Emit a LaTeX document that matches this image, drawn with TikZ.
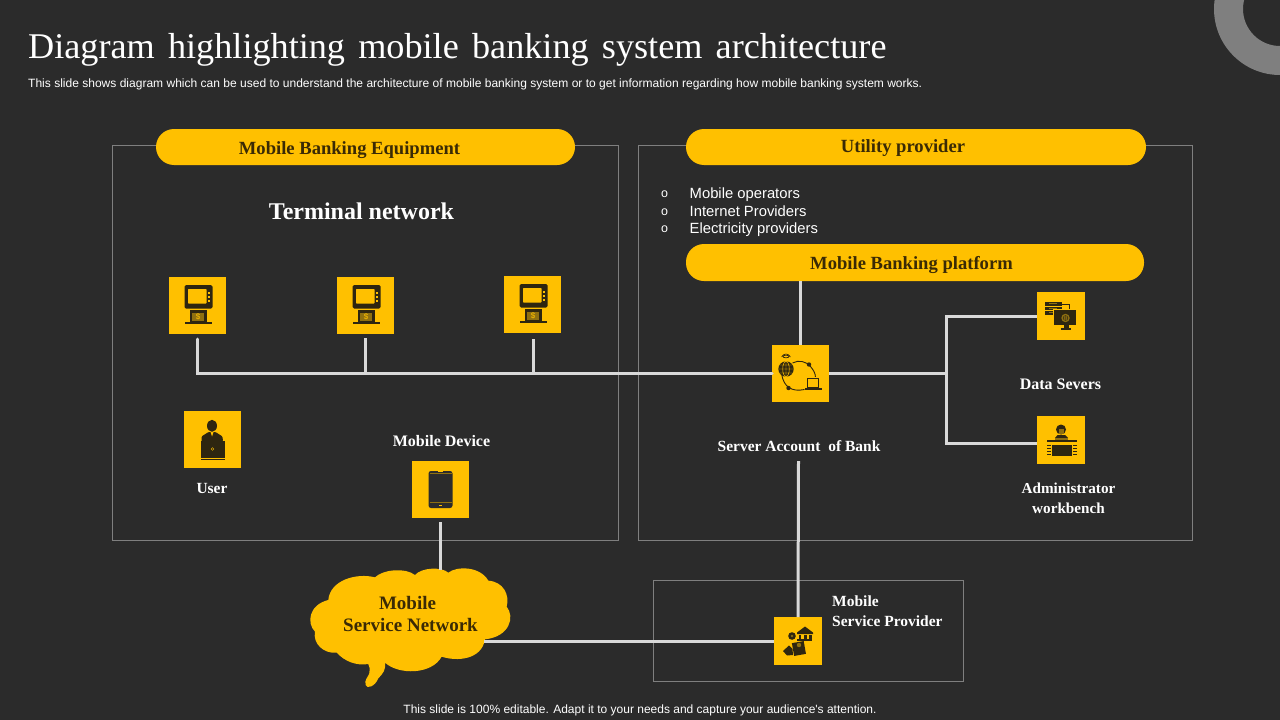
\documentclass[tikz,border=0pt]{standalone}
\usepackage{fontspec}
\setmainfont{Liberation Serif}
\newfontfamily\sansf{Liberation Sans}
\definecolor{bgc}{HTML}{2B2B2B}
\definecolor{ylw}{HTML}{FFC000}
\definecolor{linec}{HTML}{D9D9D9}
\definecolor{framec}{HTML}{7F7F7F}
\definecolor{ink}{HTML}{3A2A05}
\definecolor{icn}{HTML}{2E2610}
\definecolor{olive}{HTML}{8F7010}
\tikzset{
  x=1pt,y=-1pt,
  bigicon/.style={fill=ylw,minimum size=57pt,inner sep=0pt,outer sep=0pt},
  smallicon/.style={fill=ylw,minimum size=48pt,inner sep=0pt,outer sep=0pt},
  pill/.style={fill=ylw,rounded corners=18pt,inner sep=0pt,outer sep=0pt,anchor=center},
  pilltext/.style={inner sep=0pt,text=ink,anchor=base,font=\fontsize{18.6}{22}\selectfont\bfseries},
  conn/.style={draw=linec,line width=3pt},
  framebox/.style={draw=framec,line width=0.9pt},
  lbl/.style={text=white,font=\fontsize{15.5}{20}\selectfont\bfseries,align=center,inner sep=0pt},
  blt/.style={text=white,font=\sansf\fontsize{14.8}{18}\selectfont,anchor=base west,inner sep=0pt},
  bltmark/.style={text=white,font=\sansf\fontsize{12.5}{14}\selectfont,inner sep=0pt},
  atmicon/.pic={
    \fill[icn,rounded corners=1.5pt] (-13,-20.5) rectangle (15,3);
    \fill[ylw,rounded corners=0.7pt] (-9.5,-16.5) rectangle (9,-2);
    \foreach \yy in {-13,-9,-5}{\fill[ylw] (10.6,\yy-1) rectangle (12.8,\yy+1);}
    \fill[icn] (-8,4.5) rectangle (9,16.5);
    \fill[olive] (-5.2,7) rectangle (6.5,15);
    \node[text=ylw,inner sep=0pt,font=\sansf\fontsize{8}{8}\selectfont] at (0.6,11) {\$};
    \fill[icn] (-13,16.5) rectangle (14.5,18.3);
  },
  usericon/.pic={
    \fill[icn] (-0.5,-13.7) ellipse (5 and 6);
    \fill[icn,rounded corners=1pt] (-11,2) -- (-11,-3) -- (-4,-7.5) -- (3,-7.5) -- (10,-3) -- (10.5,2) -- cycle;
    \fill[ylw] (-2,-7.5) -- (1,-7.5) -- (-0.5,-3) -- cycle;
    \fill[icn] (-12,1) rectangle (12,18);
    \draw[ylw,line width=0.4pt] (0,9.5) circle (1.3);
    \fill[icn] (-12,19) rectangle (12,20.5);
  },
  phoneicon/.pic={
    \fill[bgc,rounded corners=2.5pt] (-12,-18.5) rectangle (12,18.5);
    \draw[olive,line width=0.4pt] (-11,12.5) -- (11,12.5) (-11,-16) -- (11,-16);
    \fill[ylw] (-1.2,15) rectangle (1.2,16.5);
    \fill[ylw] (-2.5,-18.5) rectangle (2.5,-17.7);
  },
  servericon/.pic={
    \draw[icn,line width=0.9pt] (-8,-10.5) .. controls (-2,-14) and (6,-12) .. (10,-7) .. controls (13,-3.5) and (15,0) .. (15,4);
    \draw[icn,line width=0.9pt] (-19,0) .. controls (-18,7) and (-15,12) .. (-11.5,14) .. controls (-8,16.5) and (-3,17.5) .. (4,16);
    \fill[icn] (-14.5,-4.5) circle (7.7);
    \draw[ylw,line width=0.45pt] (-14.5,-4.5) ellipse (3.3 and 7.7) (-22.2,-4.5) -- (-6.8,-4.5) (-21,-8.5) -- (-8,-8.5) (-21,-0.5) -- (-8,-0.5) (-14.5,-12.2) -- (-14.5,3.2);
    \draw[icn,line width=0.7pt] (-14.5,-17) ellipse (3.2 and 1.3);
    \draw[icn,line width=0.6pt] (-19,-16.5) .. controls (-17,-20.5) and (-12,-20.5) .. (-10,-16.5);
    \fill[icn] (8.5,-9) circle (2.2) (-12,14.5) circle (2.2);
    \fill[ylw] (4,3) rectangle (22,17);
    \draw[icn,line width=0.9pt] (6.5,5) rectangle (18,13.5);
    \fill[icn] (4,14) rectangle (21,16.5);
  },
  dataicon/.pic={
    \foreach \yy in {-14,-9.5,-5}{\fill[icn] (-16,\yy) rectangle (1,\yy+3.8);
      \fill[olive] (-12,\yy+1.2) rectangle (-4,\yy+2);}
    \draw[icn,line width=0.5pt] (1,-12) -- (8,-12) -- (8,-6);
    \fill[ylw] (-8,-6.8) rectangle (16,10);
    \fill[icn] (-7,-6) rectangle (15,9);
    \fill[icn] (3,9) rectangle (8,12);
    \fill[icn] (0,12) rectangle (10,13.5);
    \fill[olive] (4.5,2) circle (4.2);
    \draw[icn,line width=0.4pt] (4.5,2) circle (2.4) (2,2) -- (7,2) (4.5,-0.5) -- (4.5,4.5);
  },
  adminicon/.pic={
    \fill[icn] (0,-10.5) circle (5);
    \fill[olive] (-2.5,-11) rectangle (3,-6.5);
    \fill[icn] (-6,-2) -- (-3.5,-5) -- (4,-5) -- (7,-2) -- cycle;
    \fill[olive] (-6,-2) rectangle (7,-0.3);
    \fill[icn] (-14,0) rectangle (16,2);
    \fill[icn] (-9,4.5) rectangle (11,16);
    \foreach \xx in {-14,12}{\foreach \yy in {4.5,7.5,10.5,13.5}{\fill[icn] (\xx,\yy) rectangle (\xx+4,\yy+1.8);}}
  },
  providericon/.pic={
    \fill[icn] (-1,-8.5) -- (7,-14.5) -- (15,-8.5) -- (15,-7) -- (-1,-7) -- cycle;
    \foreach \xx in {0.5,6,11}{\fill[icn] (\xx,-6.5) rectangle (\xx+2.6,-2.5);}
    \fill[icn] (-1,-2.5) rectangle (14,-0.5);
    \fill[icn] (-6,-5) circle (3.8);
    \fill[olive] (-6,-5) circle (1.4);
    \fill[icn,rotate around={10:(1,8)}] (-5,1) rectangle (7,14);
    \fill[olive] (1,4) circle (2.2);
    \fill[icn] (-15,10) -- (-9,4.5) -- (-5.5,8) -- (-5,14) -- (-11,14.5) -- cycle;
  }
}
\begin{document}
\begin{tikzpicture}
\useasboundingbox (0,0) rectangle (1280,720);
\fill[bgc] (0,0) rectangle (1280,720);
% decorative ring
\begin{scope}
\clip (0,0) rectangle (1280,720);
\fill[framec,even odd rule] (1280,9) circle (66) (1280,9) circle (37);
\end{scope}
% title
\node[anchor=base west,inner sep=0pt,text=white,font=\fontsize{36.2}{40}\selectfont] (title) at (28,58) {\spaceskip=0.365em Diagram highlighting mobile banking system architecture};
\node[anchor=base west,inner sep=0pt,text=white,font=\sansf\fontsize{12.03}{14}\selectfont] (sub) at (28,87) {This slide shows diagram which can be used to understand the architecture of mobile banking system or to get information regarding how mobile banking system works.};
\node[anchor=base,inner sep=0pt,text=white,font=\sansf\fontsize{12}{14}\selectfont] (foot) at (640,713) {This slide is 100\% editable. Adapt it to your needs and capture your audience's attention.};
% frames
\node[framebox,minimum width=506pt,minimum height=395pt,inner sep=0pt] (leftbox) at (365,342.5) {};
\node[framebox,minimum width=554pt,minimum height=395pt,inner sep=0pt] (rightbox) at (915,342.5) {};
\node[framebox,minimum width=310pt,minimum height=101pt,inner sep=0pt] (provbox) at (808,630.5) {};
% pills
\node[pill,minimum width=419pt,minimum height=36pt] (p1) at (365.5,147) {};
\node[pilltext] (p1t) at (349.5,154) {Mobile Banking Equipment};
\node[pill,minimum width=460pt,minimum height=36pt] (p2) at (916,147) {};
\node[pilltext] (p2t) at (903,152) {Utility provider};
\node[pill,minimum width=458pt,minimum height=37pt] (p3) at (915,262.5) {};
\node[pilltext] (p3t) at (911.5,269) {Mobile Banking platform};
% terminal text
\node[text=white,inner sep=0pt,font=\fontsize{24}{28}\selectfont\bfseries] (term) at (361.5,211.5) {Terminal network};
% bullets
\node[bltmark] (b1o) at (664.5,194.5) {o};
\node[bltmark] (b2o) at (664.5,212) {o};
\node[bltmark] (b3o) at (664.5,229.5) {o};
\node[blt] (b1) at (689.5,198) {Mobile operators};
\node[blt] (b2) at (689.5,216) {Internet Providers};
\node[blt] (b3) at (689.5,233) {Electricity providers};
% icon squares
\node[bigicon] (atm1) at (197.5,305.5) {};
\node[bigicon] (atm2) at (365.5,305.5) {};
\node[bigicon] (atm3) at (532.5,304.5) {};
\node[bigicon] (user) at (212.5,439.5) {};
\node[bigicon] (phone) at (440.5,489.5) {};
\node[bigicon] (server) at (800.5,373.5) {};
\node[smallicon] (data) at (1061,316) {};
\node[smallicon] (admin) at (1061,440) {};
\node[smallicon] (prov) at (798,641) {};
\pic at (atm1) {atmicon};
\pic at (atm2) {atmicon};
\pic at (atm3) {atmicon};
\pic at (user) {usericon};
\pic at (phone) {phoneicon};
\pic at (server) {servericon};
\pic at (data) {dataicon};
\pic at (admin) {adminicon};
\pic at (prov) {providericon};
% labels
\node[lbl] (luser) at (212,488) {User};
\node[lbl,font=\fontsize{16}{20}\selectfont\bfseries] (lphone) at (441.5,441) {Mobile Device};
\node[lbl] (lserver) at (799,446) {Server Account\ \ of Bank};
\node[lbl,font=\fontsize{16}{20}\selectfont\bfseries] (ldata) at (1060.5,384) {Data Severs};
\node[lbl,font=\fontsize{15.2}{20}\selectfont\bfseries] (ladmin) at (1068.5,498) {Administrator\\workbench};
\node[lbl,align=left,anchor=west] (lprov) at (832,611) {Mobile\\Service Provider};
% cloud
\begin{scope}[shift={(300,460)},x=0.3333pt,y=-0.3333pt]
\fill[ylw] (85,420) .. controls (90,360) and (170,338) .. (225,352)
 .. controls (250,328) and (315,322) .. (345,345)
 .. controls (365,322) and (425,320) .. (445,338)
 .. controls (470,318) and (540,318) .. (565,362)
 .. controls (610,365) and (630,405) .. (620,440)
 .. controls (645,470) and (630,530) .. (555,538)
 .. controls (545,600) and (470,605) .. (425,590)
 .. controls (395,645) and (295,645) .. (255,608)
 .. controls (258,628) and (250,640) .. (235,655)
 .. controls (225,680) and (200,688) .. (197,675)
 .. controls (192,660) and (205,650) .. (208,640)
 .. controls (212,630) and (208,620) .. (205,612)
 .. controls (170,618) and (135,605) .. (110,578)
 .. controls (70,582) and (38,550) .. (45,515)
 .. controls (20,490) and (25,435) .. (85,420) -- cycle;
\end{scope}
\node[inner sep=0pt,text=ink,align=center,font=\fontsize{19}{22}\selectfont\bfseries] (cloud) at (410.5,614) {Mobile\hspace*{6pt}\\Service Network};
% connector helper points
\coordinate (a1top) at (197.5,339);
\coordinate (a2top) at (365.5,338);
\coordinate (a3top) at (533,339);
\coordinate (busL) at (197.5,373.5);
\coordinate (busM) at (365.5,373.5);
\coordinate (busR) at (533,373.5);
\coordinate (jct) at (946.5,373.5);
\coordinate (jctT) at (946.5,316);
\coordinate (jctB) at (946.5,443);
\coordinate (admIn) at (1037,443);
\coordinate (phoneOut) at (440.5,522);
\coordinate (cloudTop) at (440.5,570);
\coordinate (cloudR) at (484,641);
\coordinate (servBelow) at (798.5,461);
\draw[conn,line cap=round] (a1top) -- (busL) -- (server.west);
\draw[conn] (a2top) -- (busM);
\draw[conn] (a3top) -- (busR);
\draw[conn] (p3.south -| server.north) -- (server.north);
\draw[conn] (server.east) -- (jct);
\draw[conn,line join=miter] (data.west) -- (jctT) -- (jctB) -- (admIn);
\draw[conn] (phoneOut) -- (cloudTop);
\draw[conn] (cloudR) -- (prov.west);
\draw[conn] (prov.north) -- (servBelow);
\end{tikzpicture}
\end{document}
